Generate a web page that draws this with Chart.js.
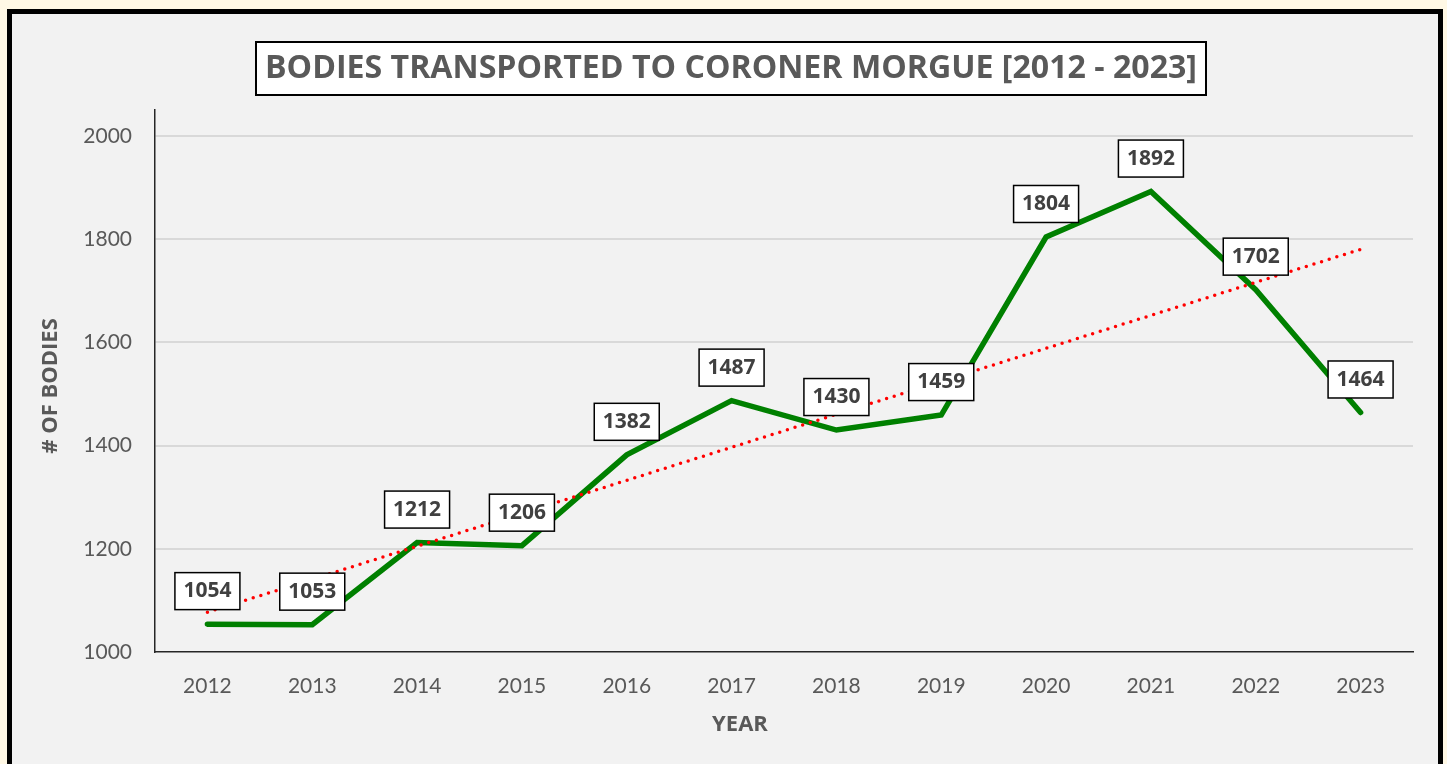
<!DOCTYPE html>
<html>
<head>
<meta charset="utf-8">
<script src="https://cdn.jsdelivr.net/npm/chart.js@4.4.1/dist/chart.umd.min.js"></script>
<style>
  html, body { margin: 0; padding: 0; background: #fff8e5; overflow: hidden; }
  #frame {
    position: absolute; left: 7px; top: 9px; width: 1426px; height: 800px;
    border: 5px solid #000; background: #f2f2f2;
  }
  #wrap { position: absolute; left: 0; top: 0; width: 1447px; height: 764px; }
</style>
</head>
<body>
<div id="frame"></div>
<div id="wrap"><canvas id="myChart" width="1447" height="764"></canvas></div>
<script>
const years = ['2012', '2013', '2014', '2015', '2016', '2017', '2018', '2019', '2020', '2021', '2022', '2023'];
const bodies = [1054, 1053, 1212, 1206, 1382, 1487, 1430, 1459, 1804, 1892, 1702, 1464];
// trendline ends (first and last year)
const trendEnds = [1077, 1780];
const yTicks = [1000, 1200, 1400, 1600, 1800, 2000];

const chartTitle = 'BODIES TRANSPORTED TO CORONER MORGUE [2012 - 2023]';
const yTitle = '# OF BODIES';
const xTitle = 'YEAR';

const fontName = 'Lato, "Open Sans", sans-serif';
const boldFont = '"Open Sans", Lato, sans-serif';

// trend line as two points joined across the gap
const trendData = years.map(() => null);
trendData[0] = trendEnds[0];
trendData[years.length - 1] = trendEnds[1];

// draws title box, axis titles and the boxed value labels
const decorations = {
    id: 'decorations',
    afterDatasetsDraw(chart) {
        const ctx = chart.ctx;
        ctx.save();

        // title in a white box
        ctx.fillStyle = '#fff';
        ctx.fillRect(256, 42, 950, 53);
        ctx.strokeStyle = '#000';
        ctx.lineWidth = 2;
        ctx.strokeRect(256, 42, 950, 53);
        ctx.font = 'bold 33px ' + boldFont;
        ctx.fillStyle = '#595959';
        ctx.textAlign = 'center';
        ctx.textBaseline = 'middle';
        ctx.fillText(chartTitle, 731, 69, 932);

        // axis titles
        ctx.font = 'bold 22px ' + boldFont;
        ctx.fillText(xTitle, 740, 725, 58);
        ctx.save();
        ctx.translate(51, 386);
        ctx.rotate(-Math.PI / 2);
        ctx.fillText(yTitle, 0, 0, 138);
        ctx.restore();

        // value labels
        const meta = chart.getDatasetMeta(1);
        ctx.font = 'bold 22px ' + boldFont;
        meta.data.forEach((pt, i) => {
            const cx = pt.x;
            const cy = pt.y - 33;
            const w = 65, h = 37;
            ctx.fillStyle = '#fff';
            ctx.fillRect(cx - w / 2, cy - h / 2, w, h);
            ctx.strokeStyle = '#000';
            ctx.lineWidth = 1.5;
            ctx.strokeRect(cx - w / 2, cy - h / 2, w, h);
            ctx.fillStyle = '#404040';
            ctx.fillText(String(bodies[i]), cx, cy, 48);
        });
        ctx.restore();
    }
};

const ctx = document.getElementById('myChart').getContext('2d');
const chart = new Chart(ctx, {
    type: 'line',
    data: {
        labels: years,
        datasets: [
            {
                label: 'Linear trend',
                data: trendData,
                spanGaps: true,
                borderColor: '#ff0000',
                borderWidth: 3.5,
                borderDash: [0, 8],
                borderCapStyle: 'round',
                pointRadius: 0,
                fill: false,
                order: 0
            },
            {
                label: 'Bodies',
                data: bodies,
                borderColor: '#008000',
                borderWidth: 5.5,
                borderCapStyle: 'round',
                borderJoinStyle: 'miter',
                pointRadius: 0,
                tension: 0,
                fill: false,
                order: 1
            }
        ]
    },
    options: {
        responsive: false,
        animation: false,
        layout: {
            padding: { left: 0, top: 110, right: 34, bottom: 0 }
        },
        plugins: {
            legend: { display: false },
            title: { display: false },
            tooltip: { enabled: false }
        },
        scales: {
            x: {
                offset: true,
                afterFit(scale) { scale.height = 112; },
                grid: { display: false, drawTicks: false },
                border: { color: '#262626', width: 1.5 },
                ticks: {
                    color: '#595959',
                    padding: 22,
                    font: { family: fontName, size: 21 }
                }
            },
            y: {
                min: 1000,
                max: 2050,
                afterFit(scale) { scale.width = 155; },
                afterBuildTicks(scale) {
                    scale.ticks = yTicks.map(v => ({ value: v }));
                },
                grid: {
                    drawTicks: false,
                    lineWidth: 2,
                    color: c => (c.tick && c.tick.value === 1000) ? 'rgba(0,0,0,0)' : '#d9d9d9'
                },
                border: { color: '#262626', width: 1.5 },
                ticks: {
                    color: '#595959',
                    padding: 23,
                    font: { family: fontName, size: 21 },
                    callback: v => String(v)
                }
            }
        }
    },
    plugins: [decorations]
});
</script>
</body>
</html>
